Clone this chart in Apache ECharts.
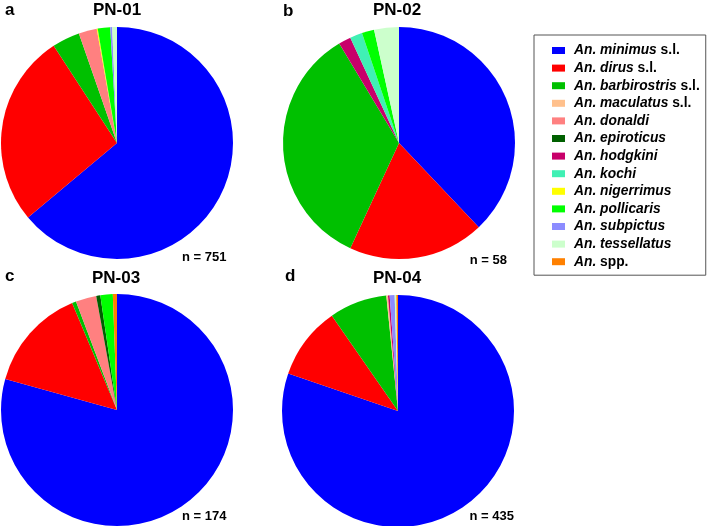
<!DOCTYPE html>
<html><head><meta charset="utf-8">
<script src="https://cdn.jsdelivr.net/npm/echarts@6/dist/echarts.min.js"></script>
<style>html,body{margin:0;padding:0;background:#fff}#c{width:709px;height:526px}</style>
</head><body><div id="c"></div>
<script>
const species = ['An. minimus s.l.','An. dirus s.l.','An. barbirostris s.l.','An. maculatus s.l.','An. donaldi','An. epiroticus','An. hodgkini','An. kochi','An. nigerrimus','An. pollicaris','An. subpictus','An. tessellatus','An. spp.'];
const colors = ['#0000ff','#ff0000','#00c000','#ffc08c','#ff8080','#006000','#c8006a','#40f0b4','#ffff00','#00ff00','#8c8cff','#ccffcc','#ff8000'];
const siteNames = ['PN-01','PN-02','PN-03','PN-04'];
const panelLetters = ['a','b','c','d'];
const pn01 = [480,202,29,0,19,0,0,0,1,13,2,5,0];
const pn02 = [22,11,20,0,0,0,1,1,0,1,0,2,0];
const pn03 = [138,25,1,0,5,1,0,0,0,3,0,0,1];
const pn04 = [349,44,35,1,0,0,1,0,0,0,3,1,1];
const totals = ['n = 751','n = 58','n = 174','n = 435'];

const siteValues = [pn01,pn02,pn03,pn04];
const centers = [[117,143],[399,143],[117,410],[398,411]];
const FONT = '"Liberation Sans", Arial, sans-serif';

const series = siteValues.map((vals,k)=>({
  type:'pie', name:siteNames[k], radius:116, center:centers[k],
  startAngle:90, clockwise:true, silent:true, animation:false,
  label:{show:false}, labelLine:{show:false}, emphasis:{disabled:true},
  itemStyle:{borderWidth:0},
  data: species.map((s,i)=>({name:s, value:vals[i], itemStyle:{color:colors[i]}}))
}));

const graphics = [];
const titlePos = [[117,10.5],[397,10.5],[116,278],[397,278]];
const letterPos = [[5,10],[283,11],[5,276.5],[285,276.5]];
const nPos = [[182,257,'left'],[507,260,'right'],[182,516,'left'],[514,516,'right']];
for(let k=0;k<4;k++){
  graphics.push({type:'text', x:titlePos[k][0], y:titlePos[k][1], style:{text:siteNames[k], font:'bold 17px '+FONT, fill:'#000', align:'center', verticalAlign:'middle'}});
  graphics.push({type:'text', x:letterPos[k][0], y:letterPos[k][1], style:{text:panelLetters[k], font:'bold 17px '+FONT, fill:'#000', align:'left', verticalAlign:'middle'}});
  graphics.push({type:'text', x:nPos[k][0], y:nPos[k][1], style:{text:totals[k], font:'bold 13px '+FONT, fill:'#000', align:nPos[k][2], verticalAlign:'middle'}});
}

const FS = 13.8;
const chart = echarts.init(document.getElementById('c'), null, {renderer:'canvas'});
chart.setOption({
  animation:false,
  legend:{
    orient:'vertical', left:534, top:35, icon:'rect', itemWidth:13, itemHeight:7, itemGap:2.6,
    padding:[8,6,6,18], borderColor:'#555', borderWidth:1, selectedMode:false,
    data: species,
    formatter: function(name){
      if(name==='An. spp.') return '{g|}{i|An.} {n|spp.}';
      if(name.endsWith(' s.l.')) return '{g|}{i|'+name.slice(0,-5)+'} {n|s.l.}';
      return '{g|}{i|'+name+'}';
    },
    textStyle:{
      fontFamily:FONT, fontWeight:'bold', fontSize:FS, color:'#000', lineHeight:15,
      rich:{
        g:{width:4, lineHeight:15},
        i:{fontFamily:FONT, fontWeight:'bold', fontStyle:'italic', fontSize:FS, color:'#000', lineHeight:15},
        n:{fontFamily:FONT, fontWeight:'bold', fontSize:FS, color:'#000', lineHeight:15}
      }
    }
  },
  series: series,
  graphic: graphics
});
</script>
</body></html>
